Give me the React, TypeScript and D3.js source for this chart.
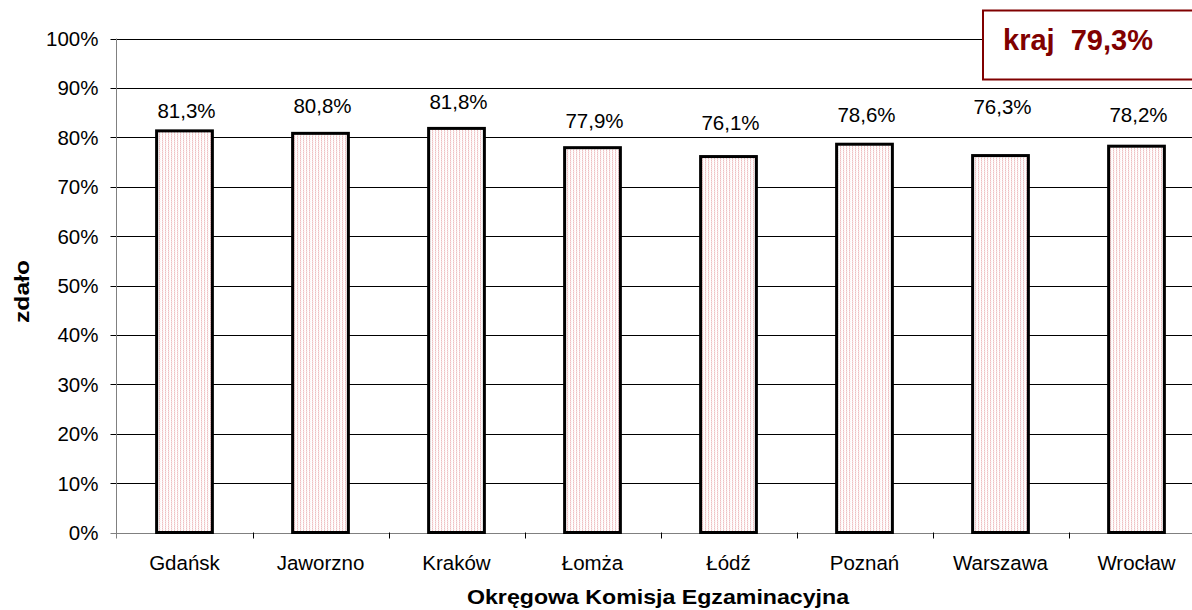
import React from "react";
import * as d3 from "d3";

const categories = ["Gdańsk", "Jaworzno", "Kraków", "Łomża", "Łódź", "Poznań", "Warszawa", "Wrocław"];
const values = [81.3, 80.8, 81.8, 77.9, 76.1, 78.6, 76.3, 78.2];
// data-label anchor levels (in % units) as placed in the original chart
const labelLevels = [83.9, 84.9, 85.7, 81.9, 81.5, 83.1, 84.7, 83.0];
const yTicks = [0, 10, 20, 30, 40, 50, 60, 70, 80, 90, 100];
const krajValue = 79.3;

const fmt = (v: number) => v.toFixed(1).replace(".", ",") + "%";

export default function App() {
  const W = 1192, H = 610;
  const left = 116.5, right = 1204.5, top = 38.5, bottom = 532.5;
  const x = d3.scaleBand<string>().domain(categories).range([left, right]).paddingInner(0.59).paddingOuter(0.295);
  const xb = d3.scaleBand<string>().domain(categories).range([left, right]);
  const y = d3.scaleLinear().domain([0, 100]).range([bottom, top]);
  const font = "'Liberation Sans', Arial, sans-serif";
  return (
    <svg width={W} height={H} style={{ position: "absolute", left: 0, top: 0, background: "#fff" }} fontFamily={font}>
      <defs>
        <pattern id="pinkp" width="3" height="2" patternUnits="userSpaceOnUse">
          <rect width="3" height="2" fill="#fff" />
          <rect x="0" y="0" width="1" height="1" fill="#eebfc1" />
          <rect x="0" y="1" width="1" height="1" fill="#f6dcdd" />
          <rect x="1" y="1" width="1" height="1" fill="#fcf0f0" />
        </pattern>
      </defs>
      {yTicks.map((t) => (
        <g key={t}>
          <line x1={left - 6} x2={right} y1={Math.round(y(t)) + 0.5} y2={Math.round(y(t)) + 0.5} stroke={t === 0 ? "#808080" : "#000"} strokeWidth={1} />
          <text x={left - 18} y={y(t) + 7.5} textAnchor="end" fontSize={20.5} fill="#000">{t}%</text>
        </g>
      ))}
      <line x1={left} x2={left} y1={top} y2={bottom + 6} stroke="#808080" strokeWidth={1} />
      {categories.map((c) => (
        <line key={c} x1={Math.round(xb(c)! + xb.bandwidth()) + 0.5} x2={Math.round(xb(c)! + xb.bandwidth()) + 0.5} y1={bottom} y2={bottom + 6} stroke="#000" />
      ))}
      {categories.map((c, i) => (
        <g key={c}>
          <rect x={x(c)!} y={y(values[i])} width={x.bandwidth()} height={bottom - y(values[i])} fill="url(#pinkp)" stroke="#000" strokeWidth={3} />
          <text x={x(c)! + x.bandwidth() / 2 + 2} y={y(labelLevels[i])} textAnchor="middle" fontSize={20.5} fill="#000">{fmt(values[i])}</text>
          <text x={xb(c)! + xb.bandwidth() / 2} y={570} textAnchor="middle" fontSize={20.5} fill="#000">{c}</text>
        </g>
      ))}
      <text x={467} y={604} fontSize={21} fontWeight="bold" fill="#000" textLength={382} lengthAdjust="spacingAndGlyphs">Okręgowa Komisja Egzaminacyjna</text>
      <text transform={`translate(29,323) rotate(-90)`} fontSize={20} fontWeight="bold" fill="#000" textLength={63} lengthAdjust="spacingAndGlyphs">zdało</text>
      <rect x={983} y={10.5} width={230} height={69} fill="#fff" stroke="#800000" strokeWidth={2} />
      <text x={1003} y={50} fontSize={29} fontWeight="bold" fill="#800000" style={{ whiteSpace: "pre" }}>{"kraj  " + fmt(krajValue)}</text>
    </svg>
  );
}
